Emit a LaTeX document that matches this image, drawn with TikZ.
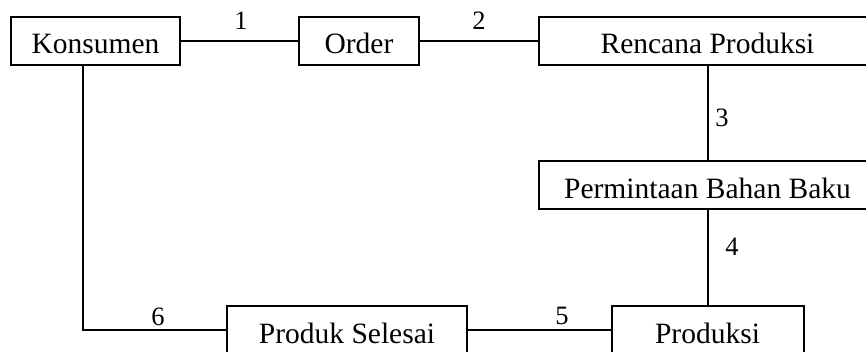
\documentclass[tikz,border=0pt]{standalone}
\usepackage{fontspec}
\setmainfont{Liberation Serif}
\begin{document}
\begin{tikzpicture}[x=1pt,y=-1pt,
  line width=2pt,
  box/.style={draw, rectangle, inner sep=0pt, minimum height=48pt,
    text height=26pt, text depth=0pt,
    font=\fontsize{29.5}{34}\selectfont},
  num/.style={inner sep=0pt, font=\fontsize{26.5}{30}\selectfont}]
\useasboundingbox (0,0) rectangle (866,352);
\clip (0,0) rectangle (866,352);

% process boxes
\node[box, minimum width=169pt] (kons) at (95.5,41) {Konsumen};
\node[box, minimum width=120pt] (order) at (359,41) {Order};
\node[box, minimum width=337pt] (renc) at (707.5,41) {Rencana Produksi};
\node[box, minimum width=337pt] (minta) at (707.5,185.5) {Permintaan Bahan Baku};
\node[box, minimum width=192pt] (prod) at (707.5,330) {Produksi};
\node[box, minimum width=240pt] (selesai) at (347,330) {Produk Selesai};

% connectors
\coordinate (turn) at (83,330);
\draw (kons.east) -- (order.west);
\draw (order.east) -- (renc.west);
\draw (renc.south) -- (minta.north);
\draw (minta.south) -- (prod.north);
\draw (prod.west) -- (selesai.east);
\draw (kons.south -| turn) -- (turn) -- (selesai.west);

% step numbers
\node[num] (n1) at (241,21) {1};
\node[num] (n2) at (479,21) {2};
\node[num] (n3) at (722,118) {3};
\node[num] (n4) at (732,247) {4};
\node[num] (n5) at (562,316) {5};
\node[num] (n6) at (158,317) {6};
\end{tikzpicture}
\end{document}
